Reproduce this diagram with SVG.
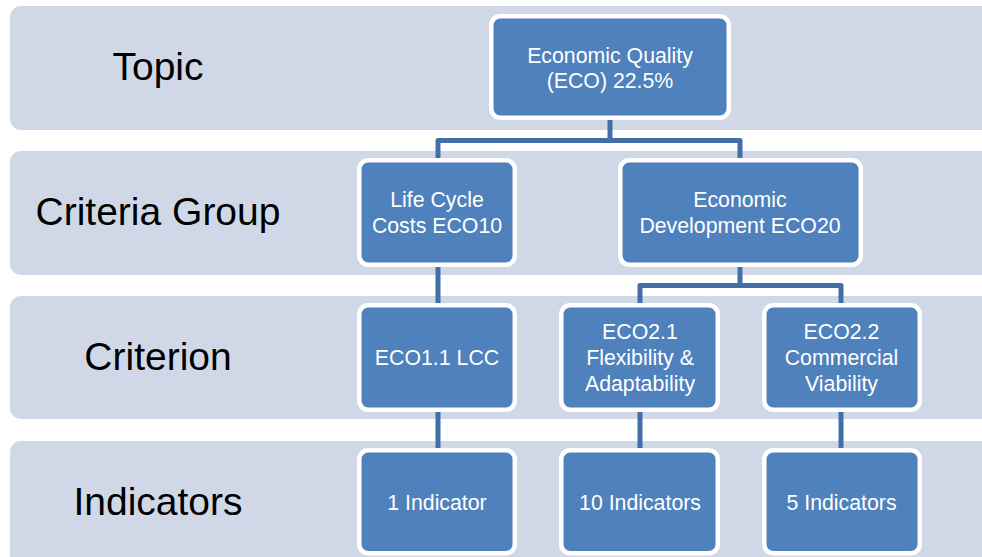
<svg xmlns="http://www.w3.org/2000/svg" width="982" height="557" viewBox="0 0 982 557">
<style>
.band{fill:#D0D8E8}
.lvl{font-family:"Liberation Sans",Arial,sans-serif;font-size:39px;fill:#000;text-anchor:middle}
.node rect{fill:#4F81BD;stroke:#FFFFFF;stroke-width:4.5}
.node text{font-family:"Liberation Sans",Arial,sans-serif;font-size:21.3px;fill:#FFFFFF;text-anchor:middle}
.conn{fill:none;stroke:#4270A6;stroke-width:5;stroke-linejoin:round}
</style>
<rect width="982" height="557" fill="#FFFFFF"/>
<g id="bands">
<rect class="band" x="10" y="6" width="990" height="124" rx="11"/>
<rect class="band" x="10" y="151" width="990" height="124" rx="11"/>
<rect class="band" x="10" y="296" width="990" height="123" rx="11"/>
<rect class="band" x="10" y="441" width="990" height="130" rx="11"/>
</g>
<g id="levels">
<text class="lvl" x="158" y="80">Topic</text>
<text class="lvl" x="158" y="225">Criteria Group</text>
<text class="lvl" x="158" y="370">Criterion</text>
<text class="lvl" x="158" y="515">Indicators</text>
</g>
<g id="connectors">
<path class="conn" d="M610,118 V140.5"/>
<path class="conn" d="M438,160 V140.5 H740 V160"/>
<path class="conn" d="M438,265 V305"/>
<path class="conn" d="M740,265 V285.5"/>
<path class="conn" d="M640,305 V285.5 H841 V305"/>
<path class="conn" d="M438,410 V450"/>
<path class="conn" d="M640,410 V450"/>
<path class="conn" d="M841,410 V450"/>
</g>
<g id="n-eco" class="node">
<rect x="491.3" y="16.3" width="237.5" height="101.5" rx="9"/>
<text x="610" y="62.5">Economic Quality</text>
<text x="610" y="87.5">(ECO) 22.5%</text>
</g>
<g id="n-eco10" class="node">
<rect x="359.3" y="160.3" width="155.5" height="104.5" rx="9"/>
<text x="437" y="206.5">Life Cycle</text>
<text x="437" y="232.5">Costs ECO10</text>
</g>
<g id="n-eco20" class="node">
<rect x="620.3" y="160.3" width="240.5" height="104.5" rx="9"/>
<text x="740" y="206.5">Economic</text>
<text x="740" y="232.5">Development ECO20</text>
</g>
<g id="n-eco11" class="node">
<rect x="359.3" y="305.3" width="155.5" height="104.5" rx="9"/>
<text x="437" y="365">ECO1.1 LCC</text>
</g>
<g id="n-eco21" class="node">
<rect x="561.3" y="305.3" width="156.5" height="104.5" rx="9"/>
<text x="640" y="338.5">ECO2.1</text>
<text x="640" y="364.5">Flexibility &amp;</text>
<text x="640" y="390.5">Adaptability</text>
</g>
<g id="n-eco22" class="node">
<rect x="764.3" y="305.3" width="155.5" height="104.5" rx="9"/>
<text x="841.5" y="338.5">ECO2.2</text>
<text x="841.5" y="364.5">Commercial</text>
<text x="841.5" y="390.5">Viability</text>
</g>
<g id="n-ind1" class="node">
<rect x="359.3" y="450.3" width="155.5" height="103" rx="9"/>
<text x="437" y="510">1 Indicator</text>
</g>
<g id="n-ind2" class="node">
<rect x="561.3" y="450.3" width="156.5" height="103" rx="9"/>
<text x="640" y="510">10 Indicators</text>
</g>
<g id="n-ind3" class="node">
<rect x="764.3" y="450.3" width="155.5" height="103" rx="9"/>
<text x="841.5" y="510">5 Indicators</text>
</g>
</svg>
